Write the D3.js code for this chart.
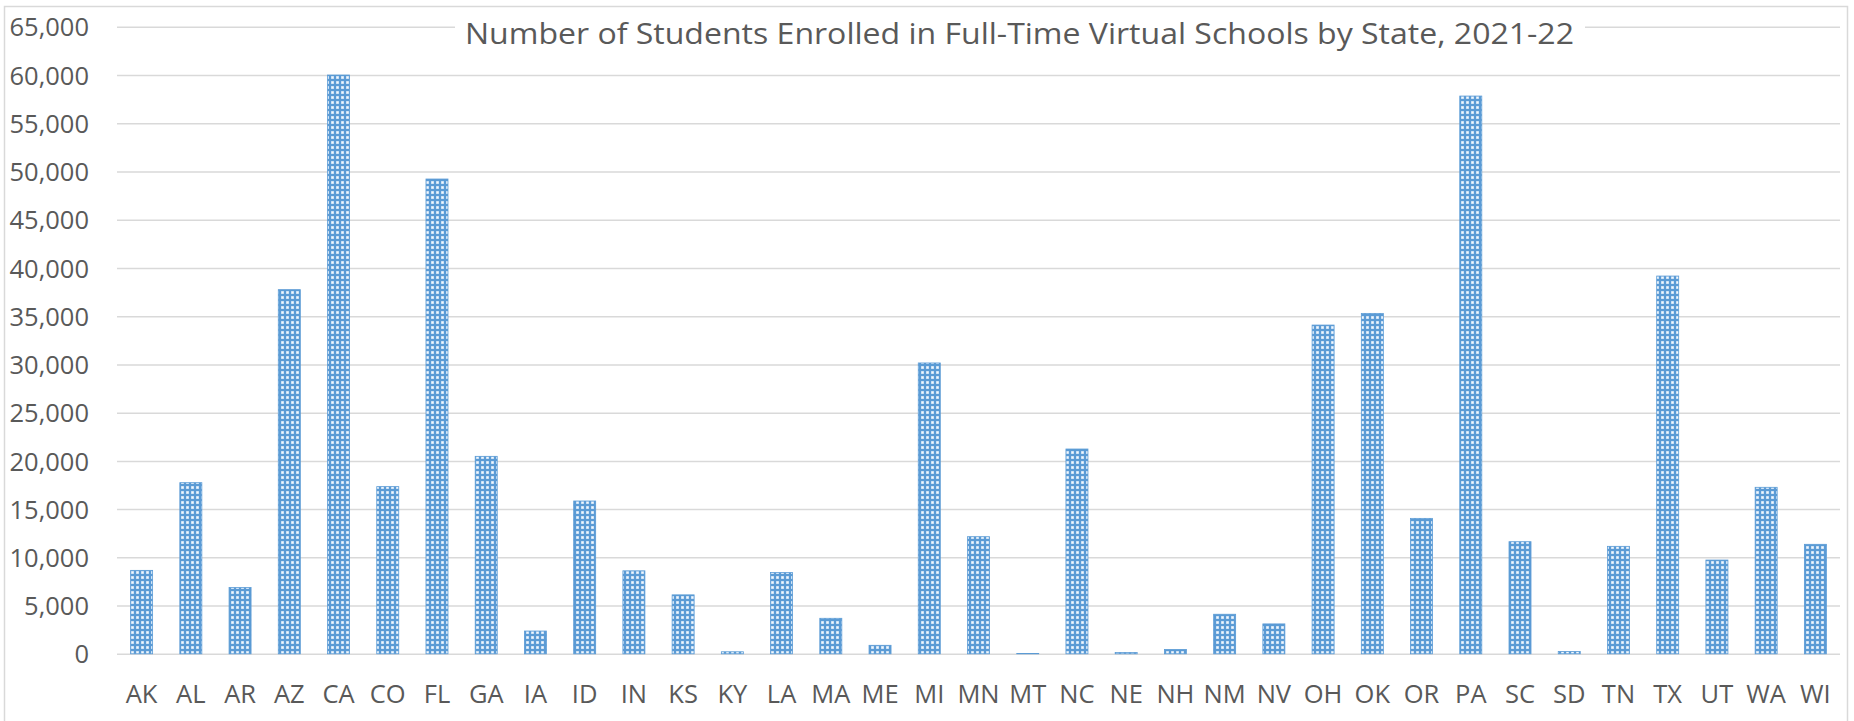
<!DOCTYPE html>
<html>
<head>
<meta charset="utf-8">
<script src="https://cdn.jsdelivr.net/npm/d3@7"></script>
<style>
  html, body { margin: 0; padding: 0; background: #fff; }
  svg { display: block; }
  text { font-family: "Open Sans", "Noto Sans", sans-serif; fill: #595959; }
</style>
</head>
<body>
<svg id="chart" width="1854" height="721"></svg>
<script>
const title = "Number of Students Enrolled in Full-Time Virtual Schools by State, 2021-22";
const states = ["AK","AL","AR","AZ","CA","CO","FL","GA","IA","ID","IN","KS","KY","LA","MA","ME","MI","MN","MT","NC","NE","NH","NM","NV","OH","OK","OR","PA","SC","SD","TN","TX","UT","WA","WI"];
const enrollment = [8650,17740,6870,37750,60000,17330,49220,20470,2360,15840,8600,6110,210,8420,3680,880,30150,12140,30,21230,140,450,4100,3100,34080,35290,14040,57820,11620,240,11140,39160,9720,17260,11350];
const yTicks = [0,5000,10000,15000,20000,25000,30000,35000,40000,45000,50000,55000,60000,65000];

const svg = d3.select("#chart");
const plot = { left: 117, right: 1840, top: 26.8, bottom: 653.8 };

// chart border
svg.append("rect").attr("x", 4.5).attr("y", 6.5).attr("width", 1843).attr("height", 730)
  .attr("fill", "#fff").attr("stroke", "#d9d9d9").attr("stroke-width", 1.5);

// pattern
const defs = svg.append("defs");
const pat = defs.append("pattern").attr("id", "dots").attr("patternUnits", "userSpaceOnUse")
  .attr("width", 5).attr("height", 5);
pat.append("rect").attr("width", 5).attr("height", 5).attr("fill", "#5b9bd5");
pat.append("rect").attr("x", 1).attr("y", 1).attr("width", 3).attr("height", 3).attr("fill", "#b3d1ef");
pat.append("rect").attr("x", 1.5).attr("y", 1.5).attr("width", 2).attr("height", 2).attr("fill", "#f4f9fe");

const x = d3.scaleBand().domain(states).range([plot.left, plot.right])
  .paddingInner(0.553).paddingOuter(0.553 / 2);
const y = d3.scaleLinear().domain([0, 65000]).range([plot.bottom, plot.top]);

// gridlines + y labels via axis
const yAxis = d3.axisLeft(y).tickValues(yTicks).tickFormat(d3.format(","))
  .tickSizeInner(-(plot.right - plot.left)).tickSizeOuter(0).tickPadding(28);
const gy = svg.append("g").attr("transform", `translate(${plot.left},0)`).call(yAxis);
gy.select(".domain").remove();
gy.selectAll(".tick line").attr("stroke", "#d9d9d9").attr("stroke-width", 1.5);
gy.selectAll(".tick text").attr("font-size", 25.5).attr("fill", "#595959")
  .attr("font-family", "'Open Sans', sans-serif").attr("dy", "0.36em");

// bars
svg.append("g").selectAll("rect").data(states).join("rect")
  .attr("x", d => x(d))
  .attr("width", x.bandwidth())
  .attr("y", (d, i) => y(enrollment[i]))
  .attr("height", (d, i) => y(0) - y(enrollment[i]))
  .attr("fill", "url(#dots)")
  .attr("stroke", "#5b9bd5").attr("stroke-width", 0.8);

// x axis labels
const xAxis = d3.axisBottom(x).tickSize(0).tickPadding(0);
const gx = svg.append("g").attr("transform", `translate(0,${plot.bottom})`).call(xAxis);
gx.select(".domain").remove();
gx.selectAll(".tick text").attr("font-size", 25.5).attr("fill", "#595959")
  .attr("font-family", "'Open Sans', sans-serif").attr("y", 49).attr("dy", 0);

// title with white background
const tg = svg.append("g");
const bg = tg.append("rect").attr("fill", "#fff");
const t = tg.append("text").attr("x", (465 + 1574) / 2).attr("y", 44)
  .attr("text-anchor", "middle").attr("font-size", 28.5).attr("fill", "#595959")
  .text(title);
const natural = t.node().getComputedTextLength();
const target = 1109;
if (Math.abs(natural - target) > 4) {
  t.attr("textLength", target).attr("lengthAdjust", "spacingAndGlyphs");
}
bg.attr("x", 455).attr("y", 12).attr("width", 1130).attr("height", 42);
</script>
</body>
</html>
